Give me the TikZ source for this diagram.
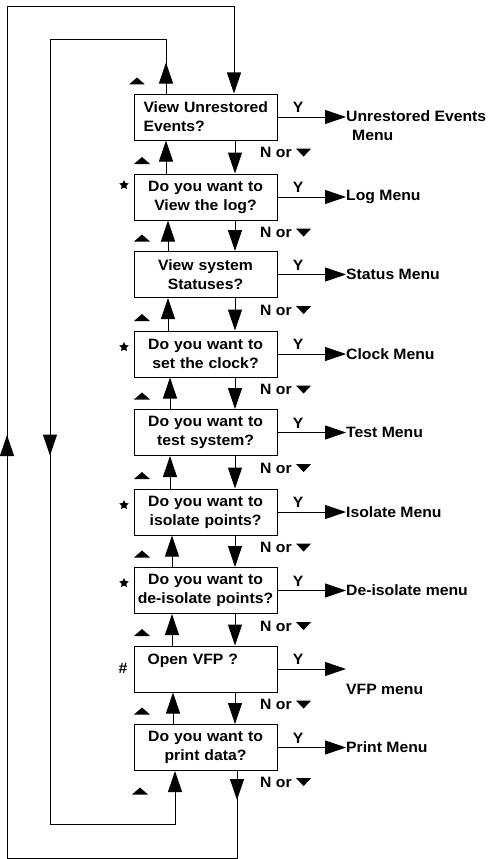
\documentclass[tikz,border=0pt]{standalone}
\usepackage{fontspec}
\setmainfont{Liberation Sans}[FakeStretch=1.05]
\usetikzlibrary{arrows.meta, positioning, calc, decorations.markings, shapes.geometric}

\newcommand{\arriba}{\tikz\fill (0pt,0pt) -- (16pt,0pt) -- (8pt,7pt) -- cycle;}
\newcommand{\abajo}{\tikz[baseline=0pt]\fill (0pt,9pt) -- (15pt,9pt) -- (7.5pt,1pt) -- cycle;}

\tikzset{
  caja/.style={draw, line width=1pt, minimum width=143pt, minimum height=46pt, text width=139pt,
    inner xsep=2pt, inner ysep=3pt, align=center},
  flecha/.style={line width=1pt, -{Triangle[length=21pt,width=14pt]}},
  salida/.style={anchor=west, inner sep=0pt, align=left},
  si/.style={above=2pt, pos=0.3, inner sep=2pt},
  nota/.style={anchor=west, inner sep=0pt},
  marca/.style={inner sep=0pt},
  estrella/.style={star, star points=5, star point ratio=2, fill, inner sep=0pt, minimum size=10pt},
  punta/.style 2 args={postaction={decorate}, decoration={markings,
    mark=at position #1 with {\arrow{Triangle[length=21pt,width=14pt]}},
    mark=at position #2 with {\arrow{Triangle[length=21pt,width=14pt]}}}}
}

\begin{document}
\begin{tikzpicture}[x=1pt, y=-1pt, font=\fontsize{15}{19}\selectfont\bfseries]
        \useasboundingbox (0,0) rectangle (491,859);
        % Cajas de preguntas
        \node[caja, text width=124pt, align=left] (b1) at (205.5,117) {\mbox{View Unrestored}\\Events?};
        \foreach \n/\y/\t in {2/197/{Do you want to\\View the log?}, 3/274.5/{View system\\Statuses?},
            4/354/{Do you want to\\set the clock?}, 5/432.5/{Do you want to\\test system?},
            6/512/{Do you want to\\isolate points?}, 7/590.5/{Do you want to\\de-isolate points?},
            9/747.5/{Do you want to\\print data?}} {
            \node[caja] (b\n) at (205.5,\y) {\t};
        }
        \node[caja, text width=116pt, align=left] (b8) at (205.5,669) {Open VFP ?\\\mbox{}};
        % Salidas con Y
        \node[salida] (o1) at (346,126) {Unrestored Events\\\hspace*{6pt}Menu};
        \foreach \n/\t in {2/Log Menu, 3/Status Menu, 4/Clock Menu, 5/Test Menu,
            6/Isolate Menu, 7/De-isolate menu, 9/Print Menu} {
            \node[salida] (o\n) at (b\n.east -| 346,0) {\t};
        }
        \node[salida] (o8) at (346,689) {VFP menu};
        \foreach \n in {1,...,9} {
            \draw[flecha] (b\n.east) -- node[si] {Y} (b\n.east -| o\n.west);
        }
        % Flechas entre cajas
        \foreach \a/\b/\ux in {1/2/166, 2/3/168, 3/4/168, 4/5/170, 5/6/170, 6/7/172, 7/8/172, 8/9/173} {
            \draw[flecha] (b\b.north -| \ux,0) -- (b\a.south -| \ux,0);
            \draw[flecha] (b\a.south -| 235,0) -- (b\b.north -| 235,0);
            \node[nota] (n\a) at ($(b\a.south -| 260,0)+(0,12)$) {N or \abajo};
            \node[marca] (m\b) at ($(b\b.north -| 142,0)+(0,-13)$) {\arriba};
        }
        \node[nota] (n9) at ($(b9.south -| 260,0)+(0,11)$) {N or \abajo};
        \node[marca] (m1) at (137,81) {\arriba};
        \node[marca] (m10) at (140,791) {\arriba};
        % Marcas de estrella y #
        \foreach \n/\y in {2/185, 4/347, 6/505, 7/583} {
            \node[estrella] (s\n) at (124,\y) {};
        }
        \node[marca] (s8) at (123,668) {\#};
        % Lazos de vuelta
        \draw[flecha, punta={31pt}{585pt}] (b1.north -| 166,0) -- (166,40) -- (50,40) -- (50,824) -- (175,824) -- (b9.south -| 175,0);
        \draw[flecha, punta={29pt}{740pt}] (b9.south -| 237,0) -- (237,858) -- (7,858) -- (7,7) -- (234,7) -- (b1.north -| 234,0);
    \end{tikzpicture}
\end{document}
